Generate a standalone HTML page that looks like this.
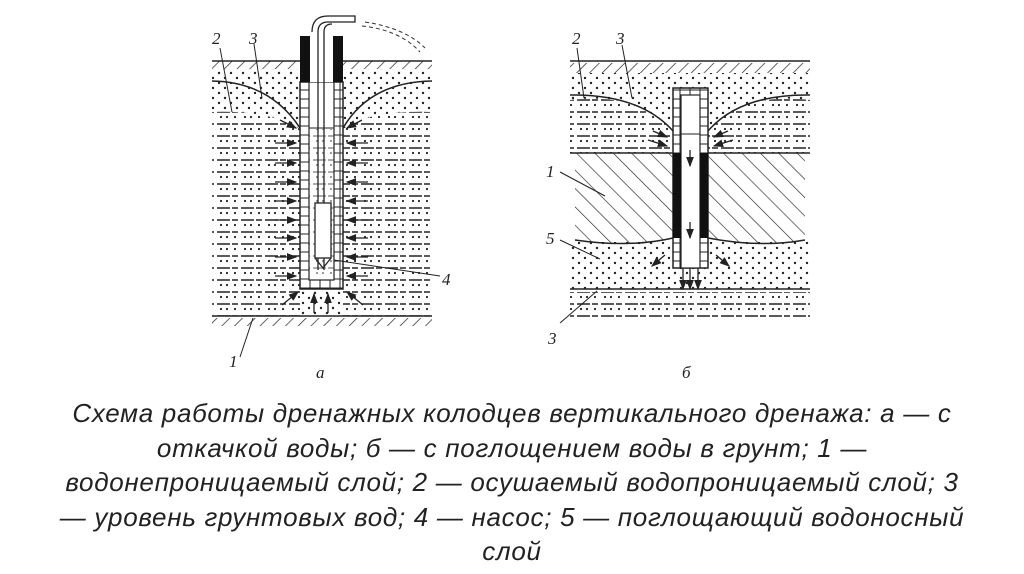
<!DOCTYPE html>
<html><head><meta charset="utf-8"><style>
html,body{margin:0;padding:0;background:#fff;width:1024px;height:574px;overflow:hidden}
.cap{position:absolute;left:0;top:396px;width:1024px;text-align:center;font-family:"Liberation Sans","DejaVu Sans",sans-serif;font-style:italic;font-size:26px;line-height:34.5px;color:#222;white-space:nowrap;letter-spacing:0.7px}
svg{position:absolute;left:0;top:0}
</style></head><body>
<svg width="1024" height="400" viewBox="0 0 1024 400" font-family="Liberation Serif,serif" font-style="italic">
<defs>
<pattern id="dots" width="12" height="10" patternUnits="userSpaceOnUse"><circle cx="3" cy="3" r="1.2" fill="#222"/><circle cx="9" cy="8" r="1.2" fill="#222"/></pattern>
<pattern id="dash" width="24" height="12" patternUnits="userSpaceOnUse"><line x1="1" y1="4" x2="14" y2="4" stroke="#222" stroke-width="1.5"/><circle cx="5" cy="9" r="1.1" fill="#222"/><circle cx="11" cy="9" r="1.1" fill="#222"/><circle cx="19" cy="9" r="1.1" fill="#222"/><line x1="16" y1="4" x2="22" y2="4" stroke="#222" stroke-width="1.5"/></pattern>
<pattern id="hatch" width="9" height="9" patternUnits="userSpaceOnUse" patternTransform="rotate(45)"><line x1="0" y1="0" x2="0" y2="9" stroke="#222" stroke-width="1.4"/></pattern>
<pattern id="hatch2" width="13" height="13" patternUnits="userSpaceOnUse" patternTransform="rotate(-45)"><line x1="0" y1="0" x2="0" y2="13" stroke="#222" stroke-width="1.3"/></pattern>
<pattern id="brick" width="10" height="9" patternUnits="userSpaceOnUse"><rect width="10" height="9" fill="#fff" stroke="#222" stroke-width="1"/></pattern>
<marker id="ah" markerWidth="8" markerHeight="8" refX="7" refY="4" orient="auto"><path d="M0,1 L8,4 L0,7z" fill="#222"/></marker>
</defs>
<!-- LEFT -->
<rect x="212" y="61" width="220" height="8" fill="url(#hatch)"/>
<rect x="212" y="69" width="220" height="247" fill="url(#dots)"/>
<path d="M212,112 Q270,110 300,129 L300,316 L212,316z M432,112 Q370,110 343,129 L343,316 L432,316z" fill="#fff"/>
<path d="M212,112 Q270,110 300,129 L300,316 L212,316z M432,112 Q370,110 343,129 L343,316 L432,316z" fill="url(#dash)" stroke="none"/>
<path d="M212,81 Q270,82 300,128 M432,81 Q370,82 343,128" stroke="#222" stroke-width="1.5" fill="none"/>
<line x1="212" y1="61" x2="432" y2="61" stroke="#222" stroke-width="1.5"/>
<line x1="212" y1="316" x2="432" y2="316" stroke="#222" stroke-width="1.5"/>
<rect x="212" y="318" width="220" height="8" fill="url(#hatch)"/>
<rect x="300" y="82" width="43" height="207" fill="url(#brick)" stroke="#222" stroke-width="1.5"/>
<rect x="309" y="82" width="25" height="198" fill="#fff" stroke="#222" stroke-width="1.2"/>
<rect x="300" y="36" width="10" height="46" fill="#111"/><rect x="333" y="36" width="10" height="46" fill="#111"/>
<rect x="310" y="46" width="23" height="36" fill="#fff"/>
<line x1="309" y1="128" x2="334" y2="128" stroke="#222"/>
<rect x="309" y="129" width="25" height="150" fill="url(#dash)" opacity=".5"/>
<path d="M318,270 L318,32 Q318,22 328,22 L355,22 L355,16 L328,16 Q312,16 312,32" fill="none" stroke="#222" stroke-width="1.3"/>
<path d="M324,270 V32 Q324,24 332,24" fill="none" stroke="#222" stroke-width="1.3"/>
<rect x="315" y="203" width="16" height="55" fill="#fff" stroke="#222" stroke-width="1.3"/>
<path d="M315,258 L323,268 L331,258" fill="none" stroke="#222" stroke-width="1.3"/>
<path d="M362,26 Q400,30 420,52 M365,22 Q405,28 425,48" stroke="#333" stroke-dasharray="4 3" fill="none"/>
<g stroke="#222" stroke-width="1.3" marker-end="url(#ah)">
<line x1="275" y1="143" x2="296" y2="143"/><line x1="275" y1="163" x2="296" y2="163"/><line x1="275" y1="182" x2="296" y2="182"/><line x1="275" y1="201" x2="296" y2="201"/><line x1="275" y1="220" x2="296" y2="220"/><line x1="275" y1="238" x2="296" y2="238"/><line x1="275" y1="257" x2="296" y2="257"/><line x1="275" y1="276" x2="296" y2="276"/>
<line x1="368" y1="143" x2="347" y2="143"/><line x1="368" y1="163" x2="347" y2="163"/><line x1="368" y1="182" x2="347" y2="182"/><line x1="368" y1="201" x2="347" y2="201"/><line x1="368" y1="220" x2="347" y2="220"/><line x1="368" y1="238" x2="347" y2="238"/><line x1="368" y1="257" x2="347" y2="257"/><line x1="368" y1="276" x2="347" y2="276"/>
<line x1="280" y1="120" x2="296" y2="128"/><line x1="362" y1="120" x2="347" y2="128"/>
<line x1="282" y1="305" x2="298" y2="292"/><line x1="363" y1="305" x2="347" y2="292"/>
<line x1="314" y1="313" x2="314" y2="294"/><line x1="328" y1="313" x2="328" y2="294"/>
</g>
<g stroke="#222" stroke-width="1" fill="none">
<line x1="220" y1="48" x2="232" y2="112"/><line x1="254" y1="44" x2="262" y2="98"/>
<line x1="334" y1="260" x2="440" y2="276"/><line x1="240" y1="357" x2="253" y2="318"/>
</g>
<g font-size="17" fill="#222"><text x="212" y="44">2</text><text x="249" y="44">3</text><text x="442" y="285">4</text><text x="229" y="367">1</text><text x="316" y="378">a</text></g>
<!-- RIGHT -->
<rect x="570" y="63" width="240" height="10" fill="url(#hatch)"/>
<rect x="570" y="73" width="240" height="80" fill="url(#dots)"/>
<path d="M570,100 Q640,92 673,131 L673,153 L570,153z M810,100 Q740,92 708,131 L708,153 L810,153z" fill="#fff"/>
<path d="M570,100 Q640,92 673,131 L673,153 L570,153z M810,100 Q740,92 708,131 L708,153 L810,153z" fill="url(#dash)"/>
<path d="M570,95 Q640,94 673,131 M810,95 Q740,94 708,131" stroke="#222" stroke-width="1.5" fill="none"/>
<path d="M575,153 L805,153 L805,240 Q760,248 708,238 L673,238 Q630,248 575,240z" fill="url(#hatch2)"/>
<path d="M575,240 Q630,248 673,238 M708,238 Q760,248 805,240" stroke="#222" stroke-width="1.5" fill="none"/>
<rect x="570" y="242" width="240" height="47" fill="url(#dots)"/>
<rect x="570" y="292" width="240" height="28" fill="url(#dash)"/>
<line x1="570" y1="61" x2="810" y2="61" stroke="#222" stroke-width="1.5"/>
<line x1="570" y1="153" x2="810" y2="153" stroke="#222" stroke-width="1.5"/>
<line x1="570" y1="289" x2="810" y2="289" stroke="#222" stroke-width="1.5"/>
<rect x="673" y="88" width="35" height="180" fill="url(#brick)" stroke="#222" stroke-width="1.5"/>
<rect x="681" y="95" width="19" height="173" fill="#fff" stroke="#222" stroke-width="1.2"/>
<rect x="673" y="153" width="8" height="85" fill="#111"/><rect x="700" y="153" width="8" height="85" fill="#111"/>
<line x1="681" y1="134" x2="700" y2="134" stroke="#222"/>
<g stroke="#222" stroke-width="1.3" marker-end="url(#ah)">
<line x1="690" y1="150" x2="690" y2="166"/><line x1="690" y1="222" x2="690" y2="238"/>
<line x1="653" y1="131" x2="667" y2="137"/><line x1="648" y1="140" x2="667" y2="146"/>
<line x1="728" y1="131" x2="714" y2="137"/><line x1="733" y1="140" x2="714" y2="146"/>
<line x1="665" y1="255" x2="652" y2="266"/><line x1="716" y1="255" x2="729" y2="266"/>
<line x1="683" y1="268" x2="683" y2="289"/><line x1="690" y1="268" x2="690" y2="289"/><line x1="698" y1="268" x2="698" y2="289"/>
</g>
<g stroke="#222" stroke-width="1" fill="none">
<line x1="577" y1="48" x2="584" y2="98"/><line x1="622" y1="45" x2="632" y2="98"/>
<line x1="560" y1="172" x2="605" y2="196"/><line x1="560" y1="240" x2="600" y2="259"/><line x1="560" y1="323" x2="597" y2="291"/>
</g>
<g font-size="17" fill="#222"><text x="572" y="44">2</text><text x="616" y="44">3</text><text x="546" y="177">1</text><text x="546" y="244">5</text><text x="548" y="344">3</text><text x="682" y="378">б</text></g>
</svg>
<div class="cap">Схема работы дренажных колодцев вертикального дренажа: а — с<br>откачкой воды; б — с поглощением воды в грунт; 1 —<br>водонепроницаемый слой; 2 — осушаемый водопроницаемый слой; 3<br>— уровень грунтовых вод; 4 — насос; 5 — поглощающий водоносный<br>слой</div>
</body></html>
